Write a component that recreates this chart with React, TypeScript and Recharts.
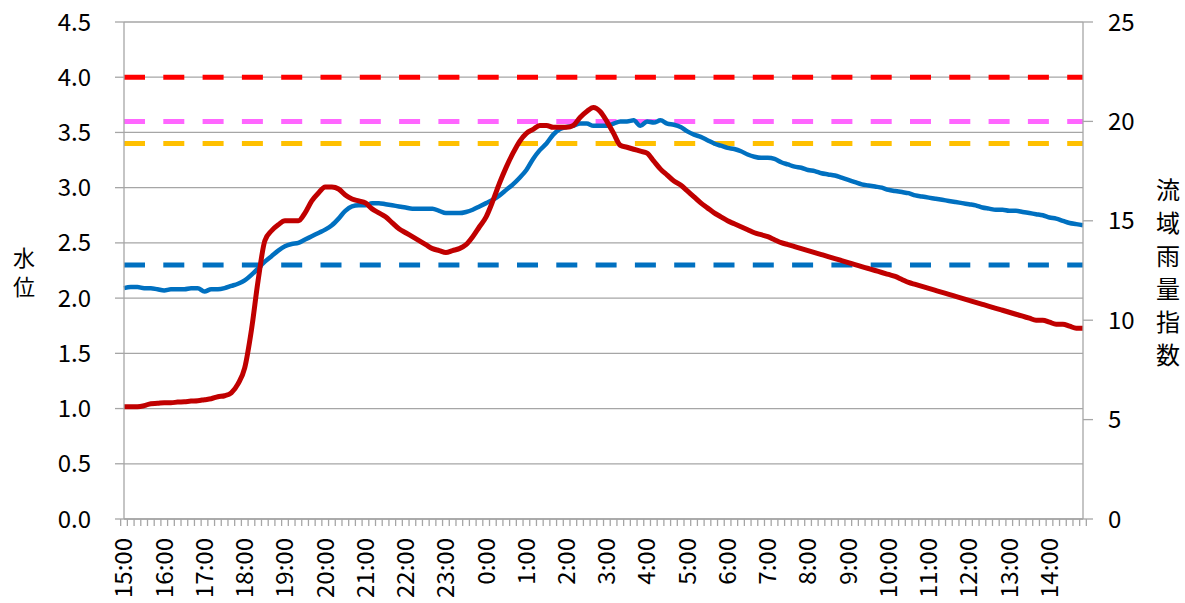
import React from 'react';
import {
  ComposedChart,
  Line,
  XAxis,
  YAxis,
  CartesianGrid,
  ReferenceLine,
  Label,
} from 'recharts';

const CHART_W = 1185;
const CHART_H = 603;
const LEFT_W = 124;
const RIGHT_W = 102;
const FONT = '"Noto Sans CJK JP", "Noto Sans", sans-serif';
const GRID = '#A6A6A6';

// 10-minute steps from 15:00 to 14:50 next day
const times = Array.from({ length: 144 }, (_, i) => {
  const h = (15 + Math.floor(i / 6)) % 24;
  const m = (i % 6) * 10;
  return `${h}:${String(m).padStart(2, '0')}`;
});

// 水位 (left axis, m)
const waterLevel = [
  2.09, 2.10, 2.10, 2.09, 2.09, 2.08,
  2.07, 2.08, 2.08, 2.08, 2.09, 2.09,
  2.06, 2.08, 2.08, 2.09, 2.11, 2.13,
  2.16, 2.21, 2.27, 2.33, 2.38, 2.43,
  2.47, 2.49, 2.50, 2.53, 2.56, 2.59,
  2.62, 2.66, 2.72, 2.79, 2.83, 2.84,
  2.84, 2.86, 2.86, 2.85, 2.84, 2.83,
  2.82, 2.81, 2.81, 2.81, 2.81, 2.79,
  2.77, 2.77, 2.77, 2.78, 2.80, 2.83,
  2.86, 2.89, 2.93, 2.98, 3.03, 3.09,
  3.16, 3.26, 3.34, 3.40, 3.48, 3.53,
  3.55, 3.56, 3.58, 3.58, 3.56, 3.56,
  3.56, 3.58, 3.60, 3.60, 3.61, 3.56,
  3.60, 3.59, 3.61, 3.58, 3.57, 3.55,
  3.51, 3.48, 3.46, 3.43, 3.40, 3.38,
  3.36, 3.35, 3.33, 3.30, 3.28, 3.27,
  3.27, 3.26, 3.23, 3.21, 3.19, 3.18,
  3.16, 3.15, 3.13, 3.12, 3.11, 3.09,
  3.07, 3.05, 3.03, 3.02, 3.01, 3.00,
  2.98, 2.97, 2.96, 2.95, 2.93, 2.92,
  2.91, 2.90, 2.89, 2.88, 2.87, 2.86,
  2.85, 2.84, 2.82, 2.81, 2.80, 2.80,
  2.79, 2.79, 2.78, 2.77, 2.76, 2.75,
  2.73, 2.72, 2.70, 2.68, 2.67, 2.66,
];

// 流域雨量指数 (right axis)
const rainIndex = [
  5.65, 5.65, 5.65, 5.70, 5.80, 5.82,
  5.85, 5.85, 5.88, 5.90, 5.93, 5.95,
  6.00, 6.05, 6.15, 6.20, 6.35, 6.80,
  7.60, 9.50, 12.0, 14.0, 14.5, 14.8,
  15.0, 15.0, 15.0, 15.4, 16.0, 16.4,
  16.7, 16.7, 16.6, 16.3, 16.1, 16.0,
  15.9, 15.6, 15.4, 15.2, 14.9, 14.6,
  14.4, 14.2, 14.0, 13.8, 13.6, 13.5,
  13.4, 13.5, 13.6, 13.8, 14.2, 14.7,
  15.2, 16.0, 16.9, 17.7, 18.4, 19.0,
  19.4, 19.6, 19.8, 19.8, 19.7, 19.7,
  19.7, 19.8, 20.2, 20.5, 20.7, 20.5,
  20.0, 19.4, 18.8, 18.7, 18.6, 18.5,
  18.4, 18.0, 17.6, 17.3, 17.0, 16.8,
  16.5, 16.2, 15.9, 15.65, 15.4, 15.2,
  15.0, 14.85, 14.7, 14.55, 14.4, 14.3,
  14.2, 14.05, 13.9, 13.8, 13.7, 13.6,
  13.5, 13.4, 13.3, 13.2, 13.1, 13.0,
  12.9, 12.8, 12.7, 12.6, 12.5, 12.4,
  12.3, 12.2, 12.05, 11.9, 11.8, 11.7,
  11.6, 11.5, 11.4, 11.3, 11.2, 11.1,
  11.0, 10.9, 10.8, 10.7, 10.6, 10.5,
  10.4, 10.3, 10.2, 10.1, 10.0, 10.0,
  9.9, 9.8, 9.8, 9.7, 9.6, 9.6,
];

const levelTicks = [0, 0.5, 1, 1.5, 2, 2.5, 3, 3.5, 4, 4.5];
const rainTicks = [0, 5, 10, 15, 20, 25];

// threshold levels (left axis)
const thresholds = [
  { value: 4.0, color: '#FF0000' },
  { value: 3.6, color: '#FF66FF' },
  { value: 3.4, color: '#FFC000' },
  { value: 2.3, color: '#0070C0' },
];

const data = times.map((time, i) => ({
  time,
  level: waterLevel[i],
  rain: rainIndex[i],
}));

const halfStep = (CHART_W - LEFT_W - RIGHT_W) / times.length / 2;

const TimeTick = (props: any) => {
  const { x, y, payload, index } = props;
  const label: string = payload.value;
  return (
    <g transform={`translate(${x},${y})`}>
      <line x1={-halfStep} x2={-halfStep} y1={0} y2={7} stroke={GRID} strokeWidth={1.3} />
      {index === times.length - 1 && (
        <line x1={halfStep} x2={halfStep} y1={0} y2={7} stroke={GRID} strokeWidth={1.3} />
      )}
      {label.endsWith(':00') && (
        <text
          transform="rotate(-90)"
          x={-19}
          y={0}
          dy="0.35em"
          textAnchor="end"
          fontSize={24}
          fontFamily={FONT}
          fill="#000"
        >
          {label}
        </text>
      )}
    </g>
  );
};

const stackedLabel = (text: string, dx: number, spacing: number, size: number) => (props: any) => {
  const { x, y, height } = props.viewBox;
  const cx = x + dx;
  const cy = y + height / 2;
  const chars = text.split('');
  return (
    <text fontSize={size} fontFamily={FONT} fill="#000" textAnchor="middle">
      {chars.map((c, k) => (
        <tspan key={k} x={cx} y={cy + (k - (chars.length - 1) / 2) * spacing} dominantBaseline="central">
          {c}
        </tspan>
      ))}
    </text>
  );
};

const App: React.FC = () => {
  return (
    <div style={{ position: 'absolute', left: 0, top: 0, background: '#fff' }}>
      <ComposedChart
        width={CHART_W}
        height={CHART_H}
        data={data}
        margin={{ top: 22, right: 0, bottom: 0, left: 0 }}
      >
        <CartesianGrid yAxisId="left" vertical={false} stroke={GRID} strokeWidth={1.3} />
        <XAxis
          dataKey="time"
          interval={0}
          height={84}
          tickSize={0}
          tickMargin={0}
          tickLine={false}
          axisLine={{ stroke: GRID, strokeWidth: 1.3 }}
          tick={<TimeTick />}
        />
        <YAxis
          yAxisId="left"
          width={LEFT_W}
          domain={[0, 4.5]}
          ticks={levelTicks}
          tickFormatter={(v: number) => v.toFixed(1)}
          tickSize={9}
          tickMargin={24}
          tickLine={{ stroke: GRID, strokeWidth: 1.3 }}
          axisLine={{ stroke: GRID, strokeWidth: 1.3 }}
          tick={{ fill: '#000', fontSize: 24, fontFamily: FONT }}
        >
          <Label content={stackedLabel('水位', 24, 29, 22)} />
        </YAxis>
        <YAxis
          yAxisId="right"
          orientation="right"
          width={RIGHT_W}
          domain={[0, 25]}
          ticks={rainTicks}
          tickSize={10}
          tickMargin={15}
          tickLine={{ stroke: GRID, strokeWidth: 1.3 }}
          axisLine={{ stroke: GRID, strokeWidth: 1.3 }}
          tick={{ fill: '#000', fontSize: 24, fontFamily: FONT, textAnchor: 'start' }}
        >
          <Label content={stackedLabel('流域雨量指数', 85, 33, 24)} />
        </YAxis>
        {thresholds.map((t) => (
          <ReferenceLine
            key={t.value}
            yAxisId="left"
            y={t.value}
            stroke={t.color}
            strokeWidth={5}
            strokeDasharray="21 18.3"
          />
        ))}
        <Line
          yAxisId="left"
          type="monotone"
          dataKey="level"
          stroke="#0070C0"
          strokeWidth={4.5}
          dot={false}
          isAnimationActive={false}
        />
        <Line
          yAxisId="right"
          type="monotone"
          dataKey="rain"
          stroke="#C00000"
          strokeWidth={5}
          dot={false}
          isAnimationActive={false}
        />
      </ComposedChart>
    </div>
  );
};

export default App;
